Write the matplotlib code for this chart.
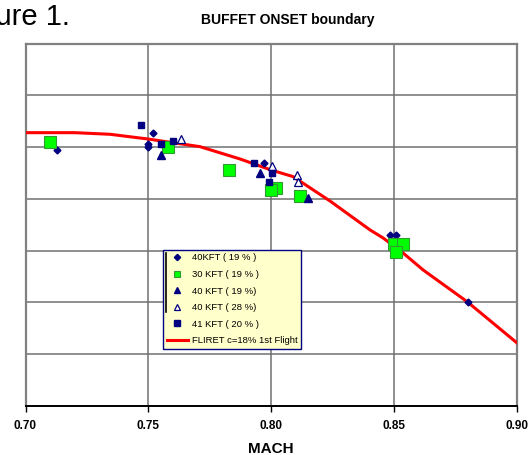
import matplotlib
matplotlib.use("Agg")
import matplotlib.pyplot as plt
from matplotlib.lines import Line2D
import numpy as np

plt.rcParams['font.family'] = ['Liberation Sans', 'DejaVu Sans']

# ---- data (Mach, buffet-onset value) ----
m40_19 = [0.7129, 0.7520, 0.7498, 0.7498, 0.7971, 0.8483, 0.8508, 0.8802]
y40_19 = [0.6944, 0.7263, 0.7060, 0.7002, 0.6699, 0.5303, 0.5303, 0.4004]

m30_19 = [0.7100, 0.7578, 0.7829, 0.8019, 0.7999, 0.8118, 0.8500, 0.8535, 0.8508]
y30_19 = [0.7104, 0.7002, 0.6552, 0.6216, 0.6168, 0.6062, 0.5124, 0.5124, 0.4969]

m40_19t = [0.7551, 0.7953, 0.8149]
y40_19t = [0.6847, 0.6490, 0.6008]

m40_28 = [0.7631, 0.8003, 0.8103, 0.8110]
y40_28 = [0.7153, 0.6635, 0.6469, 0.6317]

m41_20 = [0.7468, 0.7550, 0.7599, 0.7930, 0.8002, 0.7991]
y41_20 = [0.7417, 0.7064, 0.7118, 0.6701, 0.6506, 0.6320]

fliret_m = [0.700, 0.7201, 0.7344, 0.7498, 0.7710, 0.7873, 0.7999, 0.8089,
            0.8239, 0.8402, 0.8455, 0.8536, 0.8618, 0.8797, 0.900]
fliret_y = [0.7278, 0.7278, 0.7247, 0.7156, 0.7008, 0.6770, 0.6558, 0.6429,
            0.5959, 0.5400, 0.5245, 0.4956, 0.4627, 0.4015, 0.3218]

xticks = [0.70, 0.75, 0.80, 0.85, 0.90]
xticklabels = ["0.70", "0.75", "0.80", "0.85", "0.90"]
yticks = [0.2, 0.3, 0.4, 0.5, 0.6, 0.7, 0.8, 0.9]

W, H = 531, 455
fig = plt.figure(figsize=(W / 100, H / 100), dpi=100)
L, R, T, B = 25.5, 517, 43.5, 406
ax = fig.add_axes([L / W, 1 - B / H, (R - L) / W, (B - T) / H])

navy = '#000080'
ax.plot(fliret_m, fliret_y, color='#FF0000', lw=2.2, zorder=3,
        label='FLIRET c=18% 1st Flight')
ax.plot(m40_19, y40_19, ls='none', marker='D', ms=3.5, color=navy, zorder=4,
        label='40KFT ( 19 % )')
ax.plot(m30_19, y30_19, ls='none', marker='s', ms=8.3, mfc='#00FF00', mec='#339933',
        mew=0.8, zorder=4, label='30 KFT ( 19 % )')
ax.plot(m40_19t, y40_19t, ls='none', marker='^', ms=5.3, color=navy, zorder=4,
        label='40 KFT ( 19 %)')
ax.plot(m40_28, y40_28, ls='none', marker='^', ms=5.3, mfc='white', mec=navy,
        mew=0.9, zorder=4, label='40 KFT ( 28 %)')
ax.plot(m41_20, y41_20, ls='none', marker='s', ms=4.6, color=navy, zorder=4,
        label='41 KFT ( 20 % )')

ax.set_xlim(0.70, 0.90)
ax.set_ylim(0.2, 0.9)
ax.set_xticks(xticks)
ax.set_xticklabels(xticklabels, fontweight='bold', fontsize=8.5)
ax.set_yticks(yticks)
ax.tick_params(axis='y', left=False, labelleft=False)
ax.tick_params(axis='x', direction='out', length=4, width=1, color='black', pad=6)
ax.grid(True, color='#707070', lw=1.1)
ax.set_axisbelow(True)
for s in ['top', 'left', 'right']:
    ax.spines[s].set_color('#808080')
    ax.spines[s].set_linewidth(1.6)
ax.spines['bottom'].set_color('black')
ax.spines['bottom'].set_linewidth(1.4)

ax.set_xlabel('MACH', fontweight='bold', fontsize=11, labelpad=7)

fig.text(287.5 / W, 1 - 20 / H, 'BUFFET ONSET boundary', fontweight='bold',
         fontsize=10, ha='center', va='center')
fig.text(70 / W, 1 - 25 / H, 'Figure 1.', fontsize=21, ha='right', va='baseline')

# legend
handles, labels = ax.get_legend_handles_labels()
order = [1, 2, 3, 4, 5, 0]
leg = ax.legend([handles[i] for i in order], [labels[i] for i in order],
                loc='upper left',
                bbox_to_anchor=((163 - L) / (R - L), (B - 249.5) / (B - T)),
                borderaxespad=0, fontsize=6.8, frameon=True, fancybox=False,
                facecolor='#FFFFCC', edgecolor=navy, framealpha=1,
                handlelength=2.2, handletextpad=0.4, labelspacing=0.8,
                borderpad=0.42, numpoints=1)
leg.get_frame().set_linewidth(1.0)
sizes = [3.2, 4, 4.5, 4.5, 4, None]
for h, s in zip(leg.legend_handles, sizes):
    if s is not None:
        h.set_markersize(s)
# small black bar inside legend
fig.add_artist(Line2D([165.7 / W, 165.7 / W], [1 - 253 / H, 1 - 312 / H],
                      color='black', lw=1.2, transform=fig.transFigure, zorder=10))

fig.savefig('out.png', dpi=100)
